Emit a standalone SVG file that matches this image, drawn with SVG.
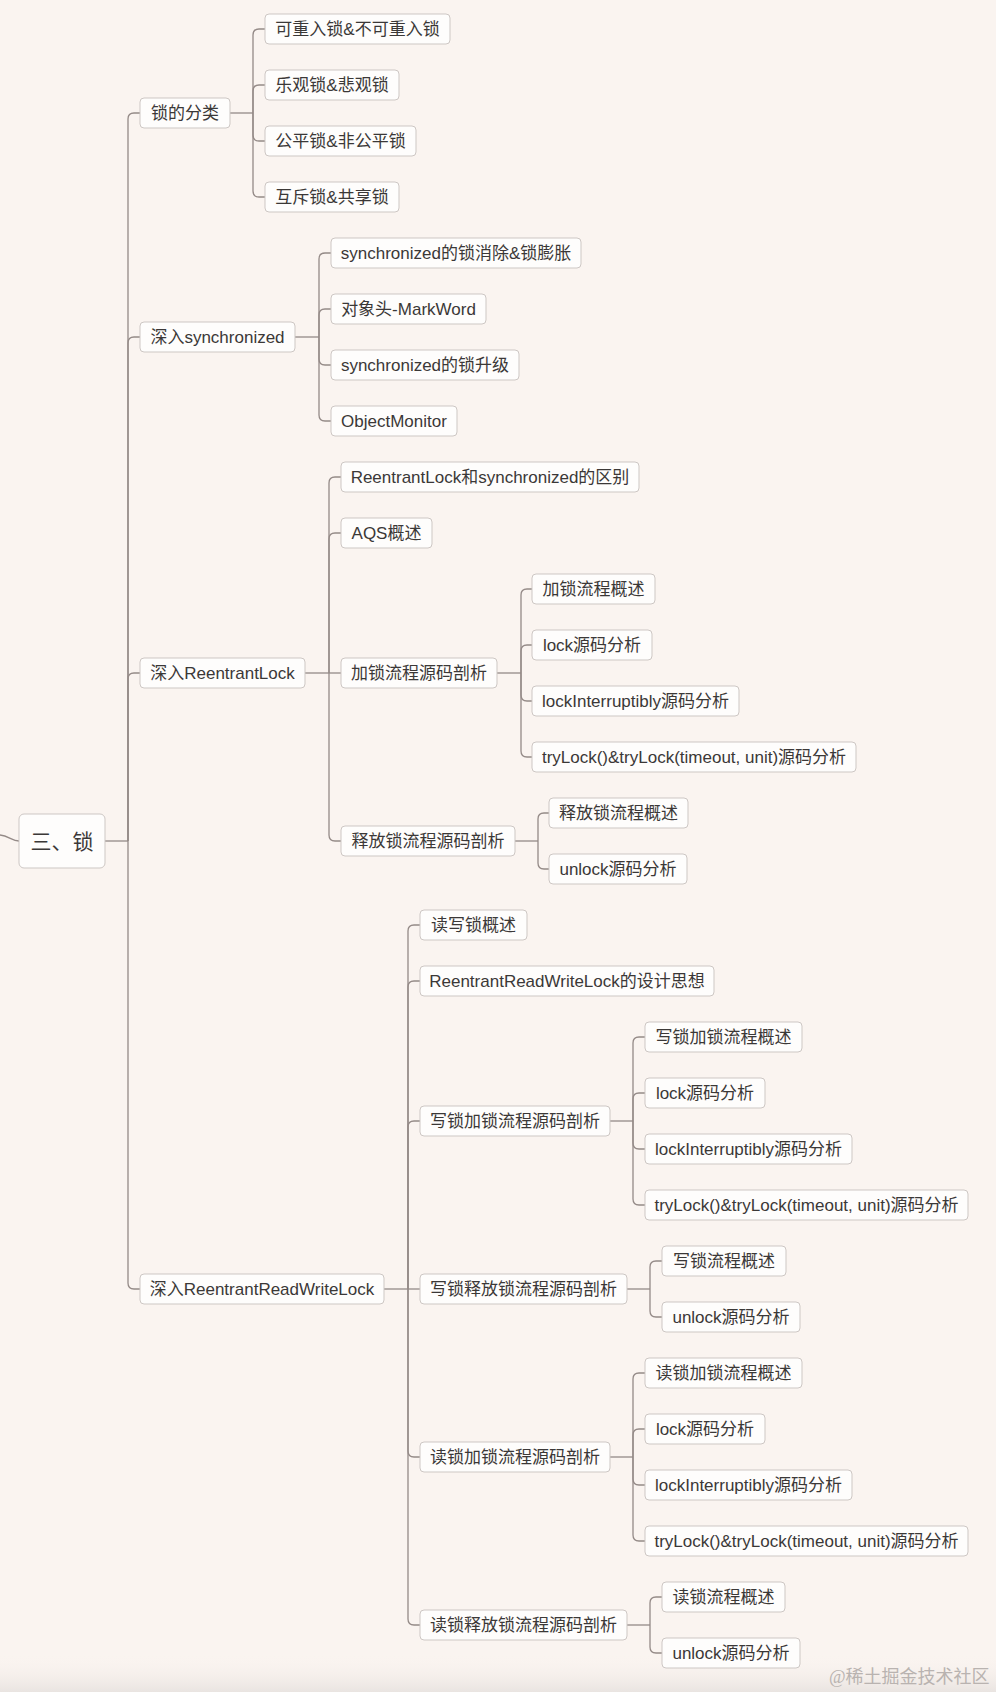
<svg xmlns="http://www.w3.org/2000/svg" width="996" height="1692" viewBox="0 0 996 1692">
<defs>
<style>
.n rect{fill:#fefdfc;stroke:#cdc7c4;stroke-width:1}
.n text{font-family:"Liberation Sans","Noto Sans CJK SC",sans-serif;font-size:17px;fill:#3b3837;text-anchor:middle}
.root text{font-size:21px}
#edges path{fill:none;stroke:#948a87;stroke-width:1.3}
.wm{font-family:"Liberation Serif","Noto Sans CJK SC",serif;font-size:18px;fill:#b9b3b0}
</style>
<linearGradient id="bot" x1="0" y1="0" x2="0" y2="1">
<stop offset="0" stop-color="#faf3ef" stop-opacity="0"/>
<stop offset="1" stop-color="#e9e4e1"/>
</linearGradient>
</defs>
<rect x="0" y="0" width="996" height="1692" fill="#faf4f0"/>
<rect x="0" y="1655" width="996" height="37" fill="url(#bot)"/>
<g id="edges">
<path d="M0,835 C9,836 12,841 19,841"/>
<path d="M105,841 H128"/>
<path d="M128,841 V119 Q128,113 134,113 H140"/>
<path d="M128,841 V343 Q128,337 134,337 H140"/>
<path d="M128,841 V679 Q128,673 134,673 H140"/>
<path d="M128,841 V1283 Q128,1289 134,1289 H140"/>
<path d="M230,113 H253"/>
<path d="M253,113 V35 Q253,29 259,29 H265"/>
<path d="M253,113 V91 Q253,85 259,85 H265"/>
<path d="M253,113 V135 Q253,141 259,141 H265"/>
<path d="M253,113 V191 Q253,197 259,197 H265"/>
<path d="M295,337 H319"/>
<path d="M319,337 V259 Q319,253 325,253 H331"/>
<path d="M319,337 V315 Q319,309 325,309 H331"/>
<path d="M319,337 V359 Q319,365 325,365 H331"/>
<path d="M319,337 V415 Q319,421 325,421 H331"/>
<path d="M305,673 H329"/>
<path d="M329,673 V483 Q329,477 335,477 H341"/>
<path d="M329,673 V539 Q329,533 335,533 H341"/>
<path d="M329,673 H341"/>
<path d="M329,673 V835 Q329,841 335,841 H341"/>
<path d="M497,673 H521"/>
<path d="M521,673 V595 Q521,589 527,589 H532"/>
<path d="M521,673 V651 Q521,645 527,645 H532"/>
<path d="M521,673 V695 Q521,701 527,701 H532"/>
<path d="M521,673 V751 Q521,757 527,757 H532"/>
<path d="M515,841 H538"/>
<path d="M538,841 V819 Q538,813 544,813 H549"/>
<path d="M538,841 V863 Q538,869 544,869 H549"/>
<path d="M384,1289 H408"/>
<path d="M408,1289 V931 Q408,925 414,925 H420"/>
<path d="M408,1289 V987 Q408,981 414,981 H420"/>
<path d="M408,1289 V1127 Q408,1121 414,1121 H420"/>
<path d="M408,1289 H420"/>
<path d="M408,1289 V1451 Q408,1457 414,1457 H420"/>
<path d="M408,1289 V1619 Q408,1625 414,1625 H420"/>
<path d="M610,1121 H633"/>
<path d="M633,1121 V1043 Q633,1037 639,1037 H645"/>
<path d="M633,1121 V1099 Q633,1093 639,1093 H645"/>
<path d="M633,1121 V1143 Q633,1149 639,1149 H645"/>
<path d="M633,1121 V1199 Q633,1205 639,1205 H645"/>
<path d="M627,1289 H650"/>
<path d="M650,1289 V1267 Q650,1261 656,1261 H662"/>
<path d="M650,1289 V1311 Q650,1317 656,1317 H662"/>
<path d="M610,1457 H633"/>
<path d="M633,1457 V1379 Q633,1373 639,1373 H645"/>
<path d="M633,1457 V1435 Q633,1429 639,1429 H645"/>
<path d="M633,1457 V1479 Q633,1485 639,1485 H645"/>
<path d="M633,1457 V1535 Q633,1541 639,1541 H645"/>
<path d="M627,1625 H650"/>
<path d="M650,1625 V1603 Q650,1597 656,1597 H662"/>
<path d="M650,1625 V1647 Q650,1653 656,1653 H662"/>
</g>
<g id="root" class="n root"><rect x="19" y="814" width="86" height="54" rx="5"/><text x="62" y="849">三、锁</text></g>
<g id="n1" class="n"><rect x="140" y="98" width="90" height="30" rx="4"/><text x="185" y="119">锁的分类</text></g>
<g id="n1a" class="n"><rect x="265" y="14" width="185" height="30" rx="4"/><text x="357.5" y="35">可重入锁&amp;不可重入锁</text></g>
<g id="n1b" class="n"><rect x="265" y="70" width="134" height="30" rx="4"/><text x="332" y="91">乐观锁&amp;悲观锁</text></g>
<g id="n1c" class="n"><rect x="265" y="126" width="151" height="30" rx="4"/><text x="340.5" y="147">公平锁&amp;非公平锁</text></g>
<g id="n1d" class="n"><rect x="265" y="182" width="134" height="30" rx="4"/><text x="332" y="203">互斥锁&amp;共享锁</text></g>
<g id="n2" class="n"><rect x="140" y="322" width="155" height="30" rx="4"/><text x="217.5" y="343">深入synchronized</text></g>
<g id="n2a" class="n"><rect x="331" y="238" width="250" height="30" rx="4"/><text x="456" y="259">synchronized的锁消除&amp;锁膨胀</text></g>
<g id="n2b" class="n"><rect x="331" y="294" width="155" height="30" rx="4"/><text x="408.5" y="315">对象头-MarkWord</text></g>
<g id="n2c" class="n"><rect x="331" y="350" width="188" height="30" rx="4"/><text x="425" y="371">synchronized的锁升级</text></g>
<g id="n2d" class="n"><rect x="331" y="406" width="126" height="30" rx="4"/><text x="394" y="427">ObjectMonitor</text></g>
<g id="n3" class="n"><rect x="140" y="658" width="165" height="30" rx="4"/><text x="222.5" y="679">深入ReentrantLock</text></g>
<g id="n3a" class="n"><rect x="341" y="462" width="298" height="30" rx="4"/><text x="490" y="483">ReentrantLock和synchronized的区别</text></g>
<g id="n3b" class="n"><rect x="341" y="518" width="91" height="30" rx="4"/><text x="386.5" y="539">AQS概述</text></g>
<g id="n3c" class="n"><rect x="341" y="658" width="156" height="30" rx="4"/><text x="419" y="679">加锁流程源码剖析</text></g>
<g id="n3c1" class="n"><rect x="532" y="574" width="123" height="30" rx="4"/><text x="593.5" y="595">加锁流程概述</text></g>
<g id="n3c2" class="n"><rect x="532" y="630" width="120" height="30" rx="4"/><text x="592" y="651">lock源码分析</text></g>
<g id="n3c3" class="n"><rect x="532" y="686" width="207" height="30" rx="4"/><text x="635.5" y="707">lockInterruptibly源码分析</text></g>
<g id="n3c4" class="n"><rect x="532" y="742" width="324" height="30" rx="4"/><text x="694" y="763">tryLock()&amp;tryLock(timeout, unit)源码分析</text></g>
<g id="n3d" class="n"><rect x="341" y="826" width="174" height="30" rx="4"/><text x="428" y="847">释放锁流程源码剖析</text></g>
<g id="n3d1" class="n"><rect x="549" y="798" width="139" height="30" rx="4"/><text x="618.5" y="819">释放锁流程概述</text></g>
<g id="n3d2" class="n"><rect x="549" y="854" width="138" height="30" rx="4"/><text x="618" y="875">unlock源码分析</text></g>
<g id="n4" class="n"><rect x="140" y="1274" width="244" height="30" rx="4"/><text x="262" y="1295">深入ReentrantReadWriteLock</text></g>
<g id="n4a" class="n"><rect x="420" y="910" width="107" height="30" rx="4"/><text x="473.5" y="931">读写锁概述</text></g>
<g id="n4b" class="n"><rect x="420" y="966" width="294" height="30" rx="4"/><text x="567" y="987">ReentrantReadWriteLock的设计思想</text></g>
<g id="n4c" class="n"><rect x="420" y="1106" width="190" height="30" rx="4"/><text x="515" y="1127">写锁加锁流程源码剖析</text></g>
<g id="n4c1" class="n"><rect x="645" y="1022" width="157" height="30" rx="4"/><text x="723.5" y="1043">写锁加锁流程概述</text></g>
<g id="n4c2" class="n"><rect x="645" y="1078" width="120" height="30" rx="4"/><text x="705" y="1099">lock源码分析</text></g>
<g id="n4c3" class="n"><rect x="645" y="1134" width="207" height="30" rx="4"/><text x="748.5" y="1155">lockInterruptibly源码分析</text></g>
<g id="n4c4" class="n"><rect x="645" y="1190" width="323" height="30" rx="4"/><text x="806.5" y="1211">tryLock()&amp;tryLock(timeout, unit)源码分析</text></g>
<g id="n4d" class="n"><rect x="420" y="1274" width="207" height="30" rx="4"/><text x="523.5" y="1295">写锁释放锁流程源码剖析</text></g>
<g id="n4d1" class="n"><rect x="662" y="1246" width="124" height="30" rx="4"/><text x="724" y="1267">写锁流程概述</text></g>
<g id="n4d2" class="n"><rect x="662" y="1302" width="138" height="30" rx="4"/><text x="731" y="1323">unlock源码分析</text></g>
<g id="n4e" class="n"><rect x="420" y="1442" width="190" height="30" rx="4"/><text x="515" y="1463">读锁加锁流程源码剖析</text></g>
<g id="n4e1" class="n"><rect x="645" y="1358" width="157" height="30" rx="4"/><text x="723.5" y="1379">读锁加锁流程概述</text></g>
<g id="n4e2" class="n"><rect x="645" y="1414" width="120" height="30" rx="4"/><text x="705" y="1435">lock源码分析</text></g>
<g id="n4e3" class="n"><rect x="645" y="1470" width="207" height="30" rx="4"/><text x="748.5" y="1491">lockInterruptibly源码分析</text></g>
<g id="n4e4" class="n"><rect x="645" y="1526" width="323" height="30" rx="4"/><text x="806.5" y="1547">tryLock()&amp;tryLock(timeout, unit)源码分析</text></g>
<g id="n4f" class="n"><rect x="420" y="1610" width="207" height="30" rx="4"/><text x="523.5" y="1631">读锁释放锁流程源码剖析</text></g>
<g id="n4f1" class="n"><rect x="662" y="1582" width="123" height="30" rx="4"/><text x="723.5" y="1603">读锁流程概述</text></g>
<g id="n4f2" class="n"><rect x="662" y="1638" width="138" height="30" rx="4"/><text x="731" y="1659">unlock源码分析</text></g>
<text class="wm" x="829" y="1683">@稀土掘金技术社区</text>
</svg>
